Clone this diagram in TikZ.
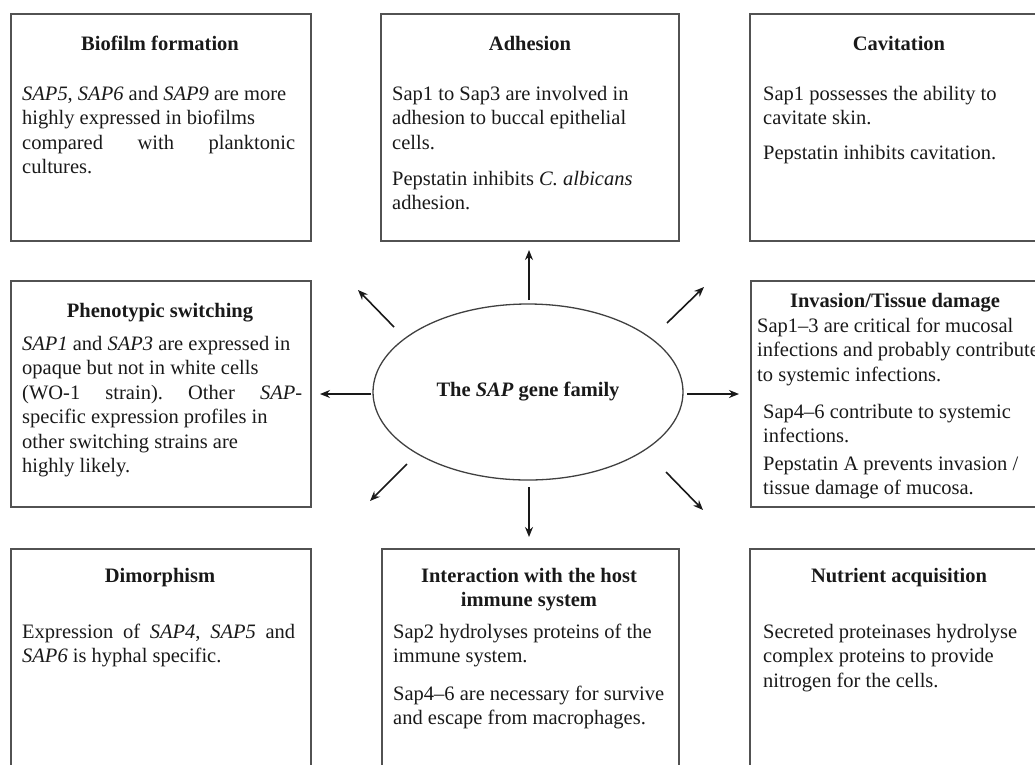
\documentclass[tikz,border=0pt]{standalone}
\usepackage{fontspec}
\setmainfont{Liberation Serif}
\usetikzlibrary{arrows.meta,shapes.geometric}
\frenchspacing
\def\asc{17.15}
\begin{document}
\begin{tikzpicture}[x=1pt,y=-1pt,
  txt/.style={font=\fontsize{20.5}{24.5}\selectfont, text=black!90, inner sep=0pt},
  ttl/.style={txt, font=\fontsize{20.5}{24.5}\selectfont\bfseries, anchor=base},
  para/.style={txt, align=left, anchor=north west},
  box/.style={draw=black!68, line width=1.8pt, rectangle, anchor=north west, inner sep=0pt},
  arr/.style={draw=black!90, line width=1.6pt, -{Stealth[length=10pt,width=8pt]}},
]
\useasboundingbox (0,0) rectangle (1035,764);
\clip (0,0) rectangle (1035,764);

% frames
\node[box, minimum width=300, minimum height=227] (biofilm)    at (10,13)   {};
\node[box, minimum width=298, minimum height=227] (adhesion)   at (380,13)  {};
\node[box, minimum width=320, minimum height=227] (cavitation) at (749,13)  {};
\node[box, minimum width=300, minimum height=226] (switching)  at (10,280)  {};
\node[box, minimum width=320, minimum height=226] (invasion)   at (750,280) {};
\node[box, minimum width=300, minimum height=230] (dimorphism) at (10,548)  {};
\node[box, minimum width=297, minimum height=230] (immune)     at (381,548) {};
\node[box, minimum width=320, minimum height=230] (nutrient)   at (749,548) {};

% centre
\node[draw=black!75, line width=1.3pt, ellipse, minimum width=310, minimum height=176,
      inner sep=0pt, font=\fontsize{20.5}{24.5}\selectfont\bfseries, text=black!90]
      (sap) at (528,392) {The \textit{SAP} gene family};

% titles
\node[ttl] (t-biofilm)    at (160,50)  {Biofilm formation};
\node[ttl] (t-adhesion)   at (530,50)  {Adhesion};
\node[ttl] (t-cavitation) at (899,50)  {Cavitation};
\node[ttl] (t-switching)  at (160,317) {Phenotypic switching};
\node[ttl] (t-invasion)   at (895,307) {Invasion/Tissue damage};
\node[ttl] (t-dimorphism) at (160,582) {Dimorphism};
\node[txt, font=\fontsize{20.5}{24.5}\selectfont\bfseries, align=center, anchor=north]
      (t-immune) at (529,{582-\asc}) {\strut Interaction with the host\\immune system};
\node[ttl] (t-nutrient)   at (899,582) {Nutrient acquisition};

% texts
\node[para] (p-biofilm) at (22,{100-\asc}) {\strut\textit{SAP5}, \textit{SAP6} and \textit{SAP9} are more\\
  highly expressed in biofilms\\
  \makebox[273pt][s]{compared with planktonic}\\
  cultures.};

\node[para] (p-adhesion-a) at (392,{100-\asc}) {\strut Sap1 to Sap3 are involved in\\
  adhesion to buccal epithelial\\
  cells.};
\node[para] (p-adhesion-b) at (392,{185-\asc}) {\strut Pepstatin inhibits \textit{C. albicans}\\
  adhesion.};

\node[para] (p-cavitation-a) at (763,{100-\asc}) {\strut Sap1 possesses the ability to\\
  cavitate skin.};
\node[para] (p-cavitation-b) at (763,{159-\asc}) {\strut Pepstatin inhibits cavitation.};

\node[para] (p-switching) at (22,{350-\asc}) {\strut\textit{SAP1} and \textit{SAP3} are expressed in\\
  opaque but not in white cells\\
  \makebox[280pt][s]{(WO-1 strain). Other \textit{SAP}-}\\
  specific expression profiles in\\
  other switching strains are\\
  highly likely.};

\node[para] (p-invasion-a) at (757,{332-\asc}) {\strut Sap1--3 are critical for mucosal\\
  infections and probably contribute\\
  to systemic infections.};
\node[para] (p-invasion-b) at (763,{418-\asc}) {\strut Sap4--6 contribute to systemic\\
  infections.};
\node[para] (p-invasion-c) at (763,{470-\asc}) {\strut Pepstatin A prevents invasion /\\
  tissue damage of mucosa.};

\node[para] (p-dimorphism) at (22,{638-\asc}) {\strut\makebox[273pt][s]{Expression of \textit{SAP4}, \textit{SAP5} and}\\
  \textit{SAP6} is hyphal specific.};

\node[para] (p-immune-a) at (393,{638-\asc}) {\strut Sap2 hydrolyses proteins of the\\
  immune system.};
\node[para] (p-immune-b) at (393,{700-\asc}) {\strut Sap4--6 are necessary for survive\\
  and escape from macrophages.};

\node[para] (p-nutrient) at (763,{638-\asc}) {\strut Secreted proteinases hydrolyse\\
  complex proteins to provide\\
  nitrogen for the cells.};

% arrow ends
\coordinate (n-s)  at (529,300); \coordinate (n-e)  at (529,250);
\coordinate (nw-s) at (394,327); \coordinate (nw-e) at (358,290);
\coordinate (ne-s) at (667,323); \coordinate (ne-e) at (704,287);
\coordinate (w-s)  at (371,394); \coordinate (w-e)  at (320,394);
\coordinate (e-s)  at (687,394); \coordinate (e-e)  at (739,394);
\coordinate (sw-s) at (407,464); \coordinate (sw-e) at (370,501);
\coordinate (s-s)  at (529,487); \coordinate (s-e)  at (529,537);
\coordinate (se-s) at (666,472); \coordinate (se-e) at (703,510);

\draw[arr] (n-s) -- (n-e);
\draw[arr] (nw-s) -- (nw-e);
\draw[arr] (ne-s) -- (ne-e);
\draw[arr] (w-s) -- (w-e);
\draw[arr] (e-s) -- (e-e);
\draw[arr] (sw-s) -- (sw-e);
\draw[arr] (s-s) -- (s-e);
\draw[arr] (se-s) -- (se-e);
\end{tikzpicture}
\end{document}
